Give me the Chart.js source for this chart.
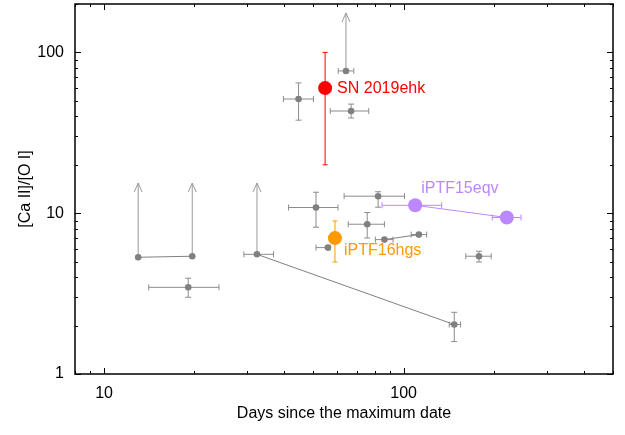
<!DOCTYPE html>
<html>
<head>
<meta charset="utf-8">
<script src="https://cdn.jsdelivr.net/npm/chart.js@4.4.0/dist/chart.umd.min.js"></script>
<style>
  html, body { margin: 0; padding: 0; background: #fff; }
  canvas { display: block; }
</style>
</head>
<body>
<canvas id="chart" width="625" height="435"></canvas>
<script>
// comparison sample (gray): days since max, [Ca II]/[O I], error ranges
const sampleDays    = [64.2, 44.6, 66.8, 13.0, 19.7, 32.4, 147.6, 19.1, 51.0, 82.2, 75.6, 86.3, 112.4, 55.9, 178.5];
const sampleRatio   = [76.7, 51.3, 43.2, 5.32, 5.40, 5.55, 2.03, 3.46, 10.85, 12.76, 8.54, 6.85, 7.36, 6.11, 5.40];
const sampleDayLo   = [60.5, 39.7, 56.9, null, null, 29.3, 142, 14.1, 41.3, 63.3, 65.3, 80.5, 106, 51.0, 161.3];
const sampleDayHi   = [68.2, 50.0, 76.5, null, null, 36.8, 155, 24.2, 60.4, 100.7, 86.3, 92.2, 119.4, 56.8, 196];
const sampleRatioLo = [null, 37.9, 39.1, null, null, null, 1.59, 3.0, 8.18, 10.9, 7.01, null, null, null, 4.97];
const sampleRatioHi = [null, 64.6, 47.7, null, null, null, 2.42, 3.94, 13.5, 13.6, 10.1, null, null, null, 5.80];

// lower limits (arrows) and epochs of the same object joined by a line
const limitIndex = [0, 3, 4, 5];
const limitTip   = [176, 15.4, 15.4, 15.4];
const joinedPairs = [[3, 4], [5, 6], [11, 12]];

// SN 2019ehk
const ehkDays = [54.7];
const ehkRatio = [60];
const ehkRatioLo = [20];
const ehkRatioHi = [100];

// iPTF16hgs
const hgsDays = [59];
const hgsRatio = [7.0];
const hgsRatioLo = [4.97];
const hgsRatioHi = [8.95];

// iPTF15eqv
const eqvDays = [109.3, 221];
const eqvRatio = [11.2, 9.4];
const eqvDayLo = [84.7, 197.6];
const eqvDayHi = [134, 246.6];

const X_TICKS = [10, 100];
const Y_TICKS = [1, 10, 100];
const X_TITLE = 'Days since the maximum date';
const Y_TITLE = '[Ca II]/[O I]';

const GRAY = '#808080';
const RED = '#ff0000';
const ORANGE = '#ff9900';
const PURPLE = '#bb88ff';
const FONT = { family: '"Liberation Sans", Arial, sans-serif', size: 16 };
const CSS_FONT = '16px "Liberation Sans", Arial, sans-serif';

const pts = (xs, ys) => xs.map((x, i) => ({ x, y: ys[i] }));

function errBar(ctx, x0, y0, x1, y1, cap) {
  ctx.beginPath();
  ctx.moveTo(x0, y0); ctx.lineTo(x1, y1);
  if (cap) {
    if (x0 === x1) {
      ctx.moveTo(x0 - cap, y0); ctx.lineTo(x0 + cap, y0);
      ctx.moveTo(x1 - cap, y1); ctx.lineTo(x1 + cap, y1);
    } else {
      ctx.moveTo(x0, y0 - cap); ctx.lineTo(x0, y0 + cap);
      ctx.moveTo(x1, y1 - cap); ctx.lineTo(x1, y1 + cap);
    }
  }
  ctx.stroke();
}

// error bars and limit arrows, drawn under the markers
const errorBars = {
  id: 'errorBars',
  beforeDatasetsDraw(chart) {
    const { ctx, scales: { x, y } } = chart;
    ctx.save();
    ctx.lineWidth = 1;

    ctx.strokeStyle = '#8c8c8c';
    sampleDays.forEach((d, i) => {
      const px = x.getPixelForValue(d), py = y.getPixelForValue(sampleRatio[i]);
      if (sampleDayLo[i] != null)
        errBar(ctx, x.getPixelForValue(sampleDayLo[i]), py, x.getPixelForValue(sampleDayHi[i]), py, 3);
      if (sampleRatioLo[i] != null)
        errBar(ctx, px, y.getPixelForValue(sampleRatioLo[i]), px, y.getPixelForValue(sampleRatioHi[i]), 3);
    });

    ctx.strokeStyle = '#9a9a9a';
    limitIndex.forEach((idx, k) => {
      const px = x.getPixelForValue(sampleDays[idx]);
      const py = y.getPixelForValue(sampleRatio[idx]);
      const tip = y.getPixelForValue(limitTip[k]);
      ctx.beginPath();
      ctx.moveTo(px, py); ctx.lineTo(px, tip);
      ctx.moveTo(px - 4, tip + 9); ctx.lineTo(px, tip); ctx.lineTo(px + 4, tip + 9);
      ctx.stroke();
    });

    ctx.strokeStyle = RED;
    ehkDays.forEach((d, i) => {
      const px = x.getPixelForValue(d);
      errBar(ctx, px, y.getPixelForValue(ehkRatioLo[i]), px, y.getPixelForValue(ehkRatioHi[i]), 2.5);
    });
    ctx.strokeStyle = ORANGE;
    hgsDays.forEach((d, i) => {
      const px = x.getPixelForValue(d);
      errBar(ctx, px, y.getPixelForValue(hgsRatioLo[i]), px, y.getPixelForValue(hgsRatioHi[i]), 2.5);
    });
    ctx.strokeStyle = PURPLE;
    eqvDays.forEach((d, i) => {
      const py = y.getPixelForValue(eqvRatio[i]);
      errBar(ctx, x.getPixelForValue(eqvDayLo[i]), py, x.getPixelForValue(eqvDayHi[i]), py, 3);
    });
    ctx.restore();
  },
};

// frame, inward ticks on all four sides, axis titles, object names
const frameAndLabels = {
  id: 'frameAndLabels',
  afterDraw(chart) {
    const { ctx, chartArea: a, scales: { x, y } } = chart;
    ctx.save();
    ctx.strokeStyle = '#000';
    ctx.lineWidth = 1;

    const decades = [];
    for (let d = 1; d <= 100; d *= 10)
      for (let m = 1; m <= 9; m++) decades.push(m * d);
    decades.forEach(v => {
      if (v < 8 || v > 500) return;
      const px = Math.round(x.getPixelForValue(v)) + 0.5;
      const len = X_TICKS.includes(v) ? 6 : 3;
      ctx.beginPath();
      ctx.moveTo(px, a.bottom); ctx.lineTo(px, a.bottom - len);
      ctx.moveTo(px, a.top); ctx.lineTo(px, a.top + len);
      ctx.stroke();
    });
    decades.forEach(v => {
      if (v < 1 || v > 200) return;
      const py = Math.round(y.getPixelForValue(v)) + 0.5;
      const len = Y_TICKS.includes(v) ? 6 : 3;
      ctx.beginPath();
      ctx.moveTo(a.left, py); ctx.lineTo(a.left + len, py);
      ctx.moveTo(a.right, py); ctx.lineTo(a.right - len, py);
      ctx.stroke();
    });

    ctx.lineWidth = 1.5;
    ctx.strokeRect(a.left, a.top, a.right - a.left, a.bottom - a.top);

    ctx.font = CSS_FONT;
    ctx.textBaseline = 'middle';
    ctx.fillStyle = '#000';
    ctx.textAlign = 'center';
    ctx.fillText(X_TITLE, (a.left + a.right) / 2, 414);
    ctx.save();
    ctx.translate(25.5, (a.top + a.bottom) / 2);
    ctx.rotate(-Math.PI / 2);
    ctx.fillText(Y_TITLE, 0, 0);
    ctx.restore();

    ctx.textAlign = 'left';
    ctx.fillStyle = RED;
    ctx.fillText('SN 2019ehk', x.getPixelForValue(ehkDays[0]) + 12, y.getPixelForValue(ehkRatio[0]) + 1);
    ctx.fillStyle = ORANGE;
    ctx.fillText('iPTF16hgs', x.getPixelForValue(hgsDays[0]) + 9, y.getPixelForValue(hgsRatio[0]) + 12);
    ctx.fillStyle = PURPLE;
    ctx.fillText('iPTF15eqv', x.getPixelForValue(eqvDays[0]) + 6, y.getPixelForValue(eqvRatio[0]) - 17);
    ctx.restore();
  },
};

new Chart(document.getElementById('chart'), {
  type: 'scatter',
  data: {
    datasets: [
      { data: pts(ehkDays, ehkRatio), pointRadius: 7, backgroundColor: RED, borderWidth: 0 },
      { data: pts(hgsDays, hgsRatio), pointRadius: 7, backgroundColor: ORANGE, borderWidth: 0 },
      { data: pts(eqvDays, eqvRatio), showLine: true, pointRadius: 7, backgroundColor: PURPLE,
        borderColor: PURPLE, borderWidth: 1, pointBorderWidth: 0 },
      { data: pts(sampleDays, sampleRatio), pointRadius: 3.3, backgroundColor: GRAY, borderWidth: 0 },
      ...joinedPairs.map(([a, b]) => ({
        data: [{ x: sampleDays[a], y: sampleRatio[a] }, { x: sampleDays[b], y: sampleRatio[b] }],
        showLine: true, pointRadius: 0, borderColor: '#808080', borderWidth: 1,
      })),
    ],
  },
  options: {
    responsive: false,
    animation: false,
    events: [],
    // marker overflow must not push the plot edges in
    layout: { autoPadding: false, padding: { top: 4, right: 12, left: 0, bottom: 0 } },
    plugins: { legend: { display: false }, tooltip: { enabled: false } },
    scales: {
      x: {
        type: 'logarithmic', min: 8, max: 500,
        afterBuildTicks: s => { s.ticks = X_TICKS.map(v => ({ value: v })); },
        afterFit: s => { s.height = 61; s.paddingLeft = 0; s.paddingRight = 0; },
        grid: { display: false, drawTicks: false },
        border: { display: false },
        ticks: { color: '#000', font: FONT, padding: 10, maxRotation: 0, autoSkip: false, callback: v => String(v) },
      },
      y: {
        type: 'logarithmic', min: 1, max: 200,
        afterBuildTicks: s => { s.ticks = Y_TICKS.map(v => ({ value: v })); },
        afterFit: s => { s.width = 75; s.paddingTop = 0; s.paddingBottom = 0; },
        grid: { display: false, drawTicks: false },
        border: { display: false },
        ticks: { color: '#000', font: FONT, padding: 11, autoSkip: false, callback: v => String(v) },
      },
    },
  },
  plugins: [errorBars, frameAndLabels],
});
</script>
</body>
</html>
